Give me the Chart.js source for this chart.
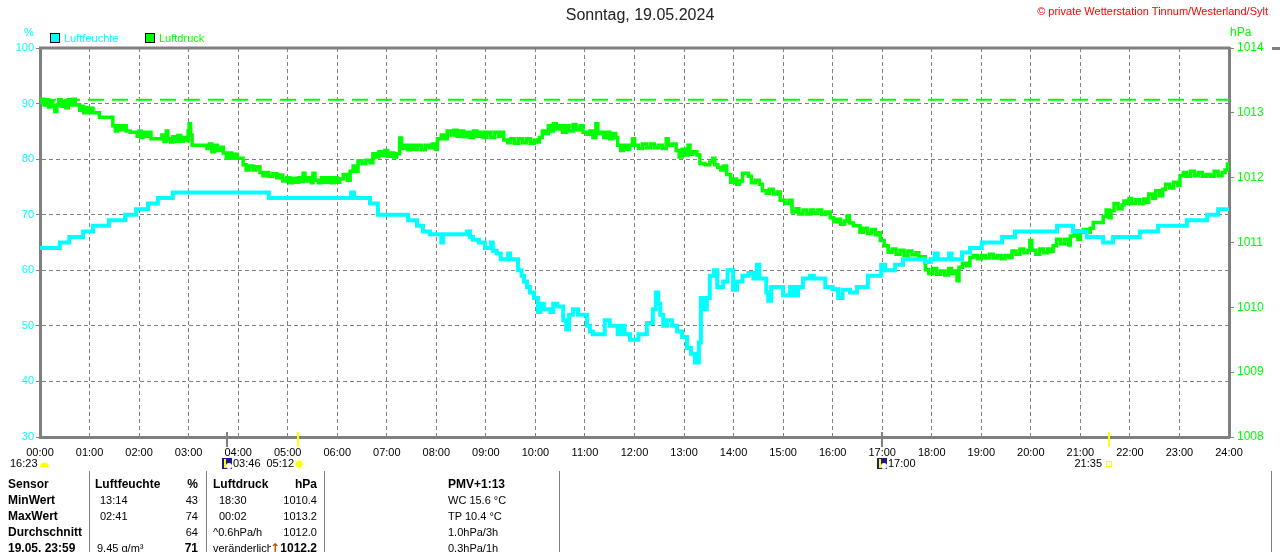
<!DOCTYPE html>
<html lang="de">
<head>
<meta charset="utf-8">
<title>Sonntag, 19.05.2024</title>
<script src="https://cdn.jsdelivr.net/npm/chart.js@4.4.1/dist/chart.umd.min.js"></script>
<style>
  html, body { margin: 0; padding: 0; background: #fff; }
  #wrap { position: relative; width: 1280px; height: 552px; overflow: hidden; background: #fff;
    font-family: 'Liberation Sans', Arial, sans-serif; }
  #chart { position: absolute; left: 0; top: 0; }
  .t { position: absolute; white-space: nowrap; line-height: 16px; font-size: 11px; color: #000; }
  .b { font-weight: bold; font-size: 12px; }
  .r { text-align: right; }
  .sep { position: absolute; top: 471px; width: 1px; height: 81px; background: #808080; }
  .sq { position: absolute; width: 8px; height: 8px; border: 1px solid #000; top: 33px; }
</style>
</head>
<body>
<div id="wrap">
  <canvas id="chart" width="1280" height="552"></canvas>

  <div class="t" style="left:0;width:1280px;top:6px;line-height:18px;font-size:16px;text-align:center;color:#222;">Sonntag, 19.05.2024</div>
  <div class="t" style="right:12px;top:4px;line-height:14px;color:#ff0000;">© private Wetterstation Tinnum/Westerland/Sylt</div>

  <div class="t" style="left:24px;top:24px;color:#00ffff;">%</div>
  <div class="t" style="left:1230px;top:24px;font-size:12px;color:#00ff00;">hPa</div>
  <div class="sq" style="left:50px;background:#00ffff;"></div>
  <div class="t" style="left:64px;top:30px;color:#00ffff;">Luftfeuchte</div>
  <div class="sq" style="left:145px;background:#00ff00;"></div>
  <div class="t" style="left:159px;top:30px;color:#00ff00;">Luftdruck</div>
  <div style="position:absolute;left:1272px;top:47px;width:8px;height:3px;background:#808080;"></div>

  <div id="table"></div>
</div>

<script>
// Luftfeuchte (%) : [Stunde, Wert]
const humidityPoints = [
  [0.00, 64], [0.40, 65], [0.59, 66], [0.87, 67], [1.07, 68], [1.39, 69], [1.72, 70],
  [1.94, 71], [2.18, 72], [2.38, 73], [2.68, 74], [4.62, 73], [6.28, 74], [6.34, 73],
  [6.66, 72], [6.82, 70], [7.43, 69], [7.61, 68], [7.73, 67], [7.87, 66.5], [8.10, 65],
  [8.14, 66.5], [8.62, 67], [8.68, 66], [8.74, 65.5], [8.86, 65], [8.98, 64], [9.10, 65],
  [9.14, 63.5], [9.22, 63], [9.30, 62], [9.45, 63], [9.49, 62], [9.65, 60], [9.72, 59],
  [9.77, 58], [9.83, 57], [9.89, 56], [9.97, 55], [10.05, 52.5], [10.10, 54], [10.17, 53],
  [10.30, 52.5], [10.36, 54], [10.44, 53.5], [10.56, 51], [10.62, 49.4], [10.68, 52],
  [10.76, 53], [10.86, 52], [11.04, 50], [11.10, 49], [11.16, 48.5], [11.40, 51],
  [11.50, 50], [11.66, 48.5], [11.74, 50], [11.80, 48.5], [11.91, 47.5], [12.08, 48.5],
  [12.25, 50.5], [12.37, 53], [12.43, 56], [12.48, 54], [12.52, 52], [12.58, 50],
  [12.66, 51], [12.76, 50], [12.86, 49], [12.96, 48], [13.06, 46], [13.14, 45],
  [13.22, 43.4], [13.30, 47], [13.34, 55], [13.40, 53], [13.46, 55], [13.52, 59],
  [13.60, 60], [13.67, 57], [13.79, 58], [13.88, 60], [13.99, 56.5], [14.07, 58],
  [14.18, 59], [14.30, 59.5], [14.40, 58.5], [14.47, 61], [14.52, 58.5], [14.66, 56],
  [14.70, 54.5], [14.76, 57], [15.00, 55.5], [15.14, 57], [15.22, 55.5], [15.30, 57],
  [15.40, 58.5], [15.54, 59], [15.62, 58.5], [15.85, 57], [16.00, 56.6], [16.11, 55],
  [16.20, 56.5], [16.35, 56], [16.49, 57], [16.71, 59], [16.98, 61], [17.06, 60],
  [17.26, 61], [17.42, 62], [17.86, 61.5], [17.98, 62], [18.06, 63], [18.12, 62],
  [18.35, 63], [18.40, 62], [18.61, 63.2], [18.77, 64], [19.01, 65], [19.42, 66],
  [19.68, 67], [20.53, 68], [20.85, 67], [21.13, 66], [21.46, 65], [21.66, 66],
  [22.20, 67], [22.57, 68], [23.15, 69], [23.56, 70], [23.78, 71], [24.00, 71],
];

// Luftdruck (hPa) : [Stunde, Wert]
const pressurePoints = [
  [0.00, 1013.16], [0.04, 1013.21], [0.08, 1013.12], [0.12, 1013.2], [0.17, 1013.09],
  [0.21, 1013.18], [0.26, 1013.1], [0.30, 1013.02], [0.34, 1013.12], [0.38, 1013.2],
  [0.43, 1013.1], [0.48, 1013.18], [0.52, 1013.08], [0.57, 1013.2], [0.62, 1013.12],
  [0.66, 1013.21], [0.71, 1013.12], [0.80, 1013.04], [0.84, 1013.1], [0.88, 1013.0],
  [0.93, 1013.08], [0.97, 1013.0], [1.02, 1013.07], [1.07, 1013.0], [1.20, 1012.93],
  [1.47, 1012.8], [1.52, 1012.72], [1.56, 1012.8], [1.62, 1012.74], [1.67, 1012.8],
  [1.74, 1012.72], [1.82, 1012.7], [1.96, 1012.64], [2.00, 1012.72], [2.04, 1012.62],
  [2.09, 1012.7], [2.14, 1012.64], [2.20, 1012.7], [2.24, 1012.6], [2.46, 1012.66],
  [2.50, 1012.56], [2.55, 1012.72], [2.58, 1012.6], [2.63, 1012.55], [2.68, 1012.63],
  [2.73, 1012.56], [2.78, 1012.65], [2.84, 1012.56], [2.89, 1012.62], [2.94, 1012.57],
  [2.99, 1012.72], [3.01, 1012.83], [3.04, 1012.66], [3.07, 1012.5], [3.37, 1012.45],
  [3.42, 1012.52], [3.47, 1012.4], [3.52, 1012.5], [3.58, 1012.42], [3.63, 1012.47],
  [3.70, 1012.38], [3.76, 1012.3], [3.81, 1012.38], [3.87, 1012.3], [3.92, 1012.36],
  [3.98, 1012.3], [4.10, 1012.2], [4.16, 1012.12], [4.22, 1012.18], [4.30, 1012.12],
  [4.36, 1012.17], [4.44, 1012.08], [4.50, 1012.03], [4.56, 1012.08], [4.62, 1012.02],
  [4.70, 1012.06], [4.78, 1012.0], [4.84, 1012.04], [4.90, 1011.95], [4.98, 1012.0],
  [5.04, 1011.92], [5.10, 1011.99], [5.16, 1011.93], [5.22, 1012.0], [5.28, 1011.94],
  [5.31, 1012.07], [5.35, 1011.95], [5.42, 1012.0], [5.48, 1011.92], [5.51, 1012.07],
  [5.55, 1011.96], [5.62, 1011.92], [5.68, 1012.0], [5.75, 1011.93], [5.82, 1012.0],
  [5.88, 1011.92], [5.94, 1012.0], [6.00, 1011.93], [6.05, 1011.98], [6.12, 1012.05],
  [6.20, 1011.96], [6.26, 1012.1], [6.32, 1012.18], [6.38, 1012.1], [6.42, 1012.26],
  [6.50, 1012.22], [6.58, 1012.27], [6.66, 1012.23], [6.72, 1012.37], [6.78, 1012.32],
  [6.84, 1012.4], [6.90, 1012.34], [6.96, 1012.42], [7.02, 1012.33], [7.08, 1012.38],
  [7.14, 1012.32], [7.20, 1012.37], [7.26, 1012.61], [7.30, 1012.45], [7.36, 1012.5],
  [7.42, 1012.43], [7.48, 1012.5], [7.55, 1012.44], [7.62, 1012.5], [7.70, 1012.43],
  [7.78, 1012.5], [7.86, 1012.46], [7.92, 1012.52], [7.98, 1012.44], [8.02, 1012.6],
  [8.10, 1012.66], [8.16, 1012.6], [8.22, 1012.72], [8.30, 1012.66], [8.36, 1012.73],
  [8.42, 1012.64], [8.48, 1012.72], [8.55, 1012.63], [8.62, 1012.7], [8.68, 1012.62],
  [8.75, 1012.72], [8.82, 1012.64], [8.88, 1012.7], [8.95, 1012.62], [9.02, 1012.7],
  [9.10, 1012.62], [9.18, 1012.7], [9.26, 1012.64], [9.32, 1012.7], [9.36, 1012.58],
  [9.44, 1012.54], [9.50, 1012.6], [9.58, 1012.53], [9.66, 1012.6], [9.74, 1012.54],
  [9.82, 1012.6], [9.90, 1012.53], [9.98, 1012.58], [10.04, 1012.55], [10.08, 1012.62],
  [10.14, 1012.72], [10.20, 1012.68], [10.26, 1012.8], [10.30, 1012.72], [10.36, 1012.83],
  [10.42, 1012.75], [10.48, 1012.8], [10.55, 1012.7], [10.62, 1012.8], [10.68, 1012.72],
  [10.76, 1012.82], [10.82, 1012.74], [10.90, 1012.8], [10.96, 1012.7], [11.04, 1012.67],
  [11.10, 1012.72], [11.16, 1012.62], [11.22, 1012.83], [11.26, 1012.68], [11.32, 1012.7],
  [11.38, 1012.62], [11.44, 1012.7], [11.50, 1012.6], [11.56, 1012.68], [11.62, 1012.62],
  [11.66, 1012.5], [11.72, 1012.42], [11.78, 1012.5], [11.84, 1012.44], [11.90, 1012.5],
  [11.96, 1012.6], [12.00, 1012.5], [12.08, 1012.45], [12.16, 1012.52], [12.24, 1012.46],
  [12.32, 1012.52], [12.40, 1012.46], [12.48, 1012.5], [12.56, 1012.45], [12.64, 1012.6],
  [12.68, 1012.5], [12.76, 1012.52], [12.84, 1012.42], [12.90, 1012.32], [12.96, 1012.44],
  [13.02, 1012.35], [13.08, 1012.5], [13.12, 1012.36], [13.18, 1012.4], [13.26, 1012.35],
  [13.32, 1012.22], [13.42, 1012.2], [13.52, 1012.24], [13.58, 1012.3], [13.62, 1012.2],
  [13.68, 1012.16], [13.74, 1012.12], [13.80, 1012.18], [13.86, 1012.05], [13.94, 1011.93],
  [14.00, 1011.98], [14.06, 1011.9], [14.12, 1011.95], [14.18, 1012.07], [14.30, 1012.02],
  [14.36, 1011.92], [14.44, 1011.96], [14.52, 1011.9], [14.58, 1011.8], [14.66, 1011.76],
  [14.72, 1011.82], [14.80, 1011.75], [14.88, 1011.78], [14.94, 1011.65], [15.04, 1011.6],
  [15.12, 1011.65], [15.18, 1011.47], [15.26, 1011.52], [15.32, 1011.44], [15.40, 1011.5],
  [15.48, 1011.44], [15.56, 1011.5], [15.62, 1011.45], [15.70, 1011.5], [15.78, 1011.43],
  [15.86, 1011.47], [15.95, 1011.38], [16.02, 1011.32], [16.09, 1011.36], [16.16, 1011.28],
  [16.24, 1011.33], [16.29, 1011.41], [16.34, 1011.3], [16.42, 1011.26], [16.55, 1011.16],
  [16.62, 1011.22], [16.70, 1011.14], [16.78, 1011.2], [16.86, 1011.12], [16.92, 1011.15],
  [16.96, 1011.03], [17.04, 1010.95], [17.12, 1010.85], [17.20, 1010.9], [17.28, 1010.82],
  [17.36, 1010.88], [17.44, 1010.8], [17.52, 1010.87], [17.60, 1010.81], [17.68, 1010.84],
  [17.74, 1010.78], [17.87, 1010.58], [17.94, 1010.52], [18.02, 1010.6], [18.10, 1010.51],
  [18.18, 1010.56], [18.26, 1010.5], [18.34, 1010.6], [18.40, 1010.52], [18.46, 1010.56],
  [18.51, 1010.41], [18.55, 1010.62], [18.62, 1010.68], [18.70, 1010.64], [18.77, 1010.77],
  [18.84, 1010.8], [18.92, 1010.75], [19.00, 1010.8], [19.08, 1010.76], [19.16, 1010.82],
  [19.24, 1010.76], [19.32, 1010.8], [19.40, 1010.75], [19.48, 1010.8], [19.56, 1010.77],
  [19.62, 1010.87], [19.70, 1010.82], [19.78, 1010.9], [19.86, 1010.84], [19.94, 1010.88],
  [19.98, 1011.03], [20.02, 1010.88], [20.10, 1010.82], [20.18, 1010.9], [20.26, 1010.84],
  [20.34, 1010.9], [20.40, 1010.86], [20.45, 1010.95], [20.52, 1011.05], [20.60, 1010.98],
  [20.68, 1011.05], [20.76, 1010.96], [20.80, 1011.1], [20.88, 1011.18], [20.95, 1011.05],
  [21.00, 1011.16], [21.06, 1011.2], [21.14, 1011.16], [21.20, 1011.22], [21.26, 1011.31],
  [21.46, 1011.4], [21.52, 1011.5], [21.58, 1011.38], [21.62, 1011.49], [21.68, 1011.6],
  [21.76, 1011.52], [21.84, 1011.58], [21.88, 1011.64], [21.94, 1011.6], [21.98, 1011.68],
  [22.04, 1011.6], [22.12, 1011.66], [22.20, 1011.6], [22.28, 1011.67], [22.34, 1011.62],
  [22.38, 1011.75], [22.46, 1011.68], [22.52, 1011.8], [22.60, 1011.72], [22.66, 1011.82],
  [22.72, 1011.9], [22.80, 1011.84], [22.88, 1011.93], [22.96, 1011.88], [23.01, 1012.03],
  [23.08, 1012.08], [23.14, 1012.02], [23.22, 1012.1], [23.30, 1012.03], [23.38, 1012.08],
  [23.46, 1012.02], [23.54, 1012.05], [23.62, 1012.02], [23.70, 1012.1], [23.78, 1012.03],
  [23.86, 1012.08], [23.92, 1012.12], [23.97, 1012.21], [24.00, 1012.2],
];

const pressureMax = 1013.2;

// Sonne / Mond (Stunde, Beschriftung)
const sunEvents = [
  { time: 5 + 12 / 60, label: '05:12', kind: 'rise' },
  { time: 21 + 35 / 60, label: '21:35', kind: 'set' },
];
const moonEvents = [
  { time: 3 + 46 / 60, label: '03:46' },
  { time: 17, label: '17:00' },
];
const prevMoonLabel = '16:23';

// Tabelle unten
const tableRows = [
  ['Sensor', 'Luftfeuchte', '%', 'Luftdruck', 'hPa', 'PMV+1:13'],
  ['MinWert', '13:14', '43', '18:30', '1010.4', 'WC 15.6 °C'],
  ['MaxWert', '02:41', '74', '00:02', '1013.2', 'TP 10.4 °C'],
  ['Durchschnitt', '', '64', '^0.6hPa/h', '1012.0', '1.0hPa/3h'],
  ['19.05. 23:59', '9.45 g/m³', '71', 'veränderlich', '1012.2', '0.3hPa/1h'],
];

const FONT = "'Liberation Sans', Arial, sans-serif";
const GRAY = '#808080';

// Tabelle aufbauen
(function buildTable() {
  const host = document.getElementById('table');
  let html = '';
  [89, 206, 324, 559, 1271].forEach((x) => {
    html += `<div class="sep" style="left:${x}px"></div>`;
  });
  tableRows.forEach((row, i) => {
    const top = 476 + i * 16;
    const head = i === 0;
    const last = i === tableRows.length - 1;
    html += `<div class="t b" style="left:8px;top:${top}px">${row[0]}</div>`;
    html += `<div class="t${head ? ' b' : ''}" style="left:${head ? 95 : (last ? 97 : 100)}px;top:${top}px">${row[1]}</div>`;
    html += `<div class="t r${head || last ? ' b' : ''}" style="left:150px;width:48px;top:${top}px">${row[2]}</div>`;
    if (last) {
      html += `<div class="t" style="left:213px;top:${top}px;width:58px;overflow:hidden">${row[3]}</div>`;
      html += `<div class="t b" style="left:270px;top:${top}px;color:#b05a00;font-family:'DejaVu Sans'">↑</div>`;
    } else {
      html += `<div class="t${head ? ' b' : ''}" style="left:${head || i === 3 ? 213 : 219}px;top:${top}px">${row[3]}</div>`;
    }
    html += `<div class="t r${head || last ? ' b' : ''}" style="left:260px;width:57px;top:${top}px">${row[4]}</div>`;
    html += `<div class="t${head ? ' b' : ''}" style="left:448px;top:${top}px">${row[5]}</div>`;
  });
  host.innerHTML = html;
})();

const hourLabel = (v) => String(v).padStart(2, '0') + ':00';

const extras = {
  id: 'extras',
  beforeDatasetsDraw(chart) {
    const { ctx, chartArea } = chart;
    const y = chart.scales.y2.getPixelForValue(pressureMax);
    ctx.save();
    ctx.strokeStyle = '#00ff00';
    ctx.lineWidth = 2;
    ctx.setLineDash([16, 8]);
    ctx.beginPath();
    ctx.moveTo(chartArea.left, y);
    ctx.lineTo(chartArea.right, y);
    ctx.stroke();
    ctx.restore();
  },
  afterDraw(chart) {
    const { ctx, chartArea } = chart;
    const x = chart.scales.x;
    const bottom = chartArea.bottom;
    const labelY = 464;
    ctx.save();
    // oberer Rahmen
    ctx.strokeStyle = GRAY;
    ctx.lineWidth = 3;
    ctx.beginPath();
    ctx.moveTo(chartArea.left - 1, chartArea.top);
    ctx.lineTo(chartArea.right + 1, chartArea.top);
    ctx.stroke();

    ctx.font = `11px ${FONT}`;
    ctx.textBaseline = 'middle';
    ctx.fillStyle = '#000';

    // Mond
    moonEvents.forEach((ev) => {
      const px = Math.round(x.getPixelForValue(ev.time));
      ctx.strokeStyle = GRAY;
      ctx.lineWidth = 2;
      ctx.beginPath();
      ctx.moveTo(px, bottom - 5);
      ctx.lineTo(px, bottom + 10);
      ctx.stroke();
      ctx.fillStyle = '#1c1c84';
      ctx.fillRect(px - 5, labelY - 6, 10, 11);
      ctx.fillStyle = '#ffffff';
      ctx.beginPath();
      ctx.arc(px + 2, labelY + 2, 3, 0, Math.PI * 2);
      ctx.fill();
      ctx.strokeStyle = '#ffff00';
      ctx.lineWidth = 2;
      ctx.beginPath();
      ctx.moveTo(px - 2, labelY - 5);
      ctx.lineTo(px - 2, labelY + 4);
      ctx.stroke();
      ctx.fillStyle = '#000';
      ctx.textAlign = 'left';
      ctx.fillText(ev.label, px + 6, labelY);
    });

    // Sonne
    sunEvents.forEach((ev) => {
      const px = Math.round(x.getPixelForValue(ev.time));
      ctx.strokeStyle = '#ffff00';
      ctx.lineWidth = 2;
      ctx.beginPath();
      ctx.moveTo(px, bottom - 5);
      ctx.lineTo(px, bottom + 10);
      ctx.stroke();
      ctx.fillStyle = '#000';
      ctx.textAlign = 'right';
      if (ev.kind === 'rise') {
        ctx.fillText(ev.label, px - 4, labelY);
        ctx.fillStyle = '#ffff00';
        ctx.beginPath();
        ctx.arc(px + 1, labelY, 3.5, 0, Math.PI * 2);
        ctx.fill();
        ctx.strokeStyle = '#ffff66';
        ctx.lineWidth = 1;
        for (let i = 0; i < 8; i++) {
          const a = (i * Math.PI) / 4;
          ctx.beginPath();
          ctx.moveTo(px + 1 + Math.cos(a) * 4.5, labelY + Math.sin(a) * 4.5);
          ctx.lineTo(px + 1 + Math.cos(a) * 6.5, labelY + Math.sin(a) * 6.5);
          ctx.stroke();
        }
      } else {
        ctx.fillText(ev.label, px - 7, labelY);
        ctx.strokeStyle = '#ffff00';
        ctx.lineWidth = 1;
        ctx.strokeRect(px - 2.5, labelY - 2.5, 5, 5);
      }
    });

    // Mond vom Vortag
    ctx.fillStyle = '#000';
    ctx.textAlign = 'left';
    ctx.fillText(prevMoonLabel, 10, labelY);
    ctx.fillStyle = '#ffff00';
    ctx.beginPath();
    ctx.arc(44.5, labelY + 3, 4.5, Math.PI, 0);
    ctx.fill();
    ctx.restore();
  },
};

new Chart(document.getElementById('chart').getContext('2d'), {
  type: 'line',
  data: {
    datasets: [
      {
        label: 'Luftfeuchte',
        data: humidityPoints.map(([x, y]) => ({ x, y })),
        yAxisID: 'y',
        borderColor: '#00ffff',
        borderWidth: 4,
        stepped: true,
        pointRadius: 0,
        fill: false,
        order: 0,
      },
      {
        label: 'Luftdruck',
        data: pressurePoints.map(([x, y]) => ({ x, y })),
        yAxisID: 'y2',
        borderColor: '#00ff00',
        borderWidth: 3.5,
        stepped: true,
        pointRadius: 0,
        fill: false,
        order: 1,
      },
    ],
  },
  options: {
    responsive: false,
    devicePixelRatio: 1,
    animation: false,
    layout: { padding: { top: 48, left: 0, right: 0, bottom: 0 } },
    plugins: { legend: { display: false }, tooltip: { enabled: false } },
    scales: {
      x: {
        type: 'linear',
        min: 0,
        max: 24,
        afterFit: (s) => { s.height = 115; },
        ticks: {
          stepSize: 1,
          autoSkip: false,
          maxRotation: 0,
          padding: 9,
          color: '#000',
          font: { family: FONT, size: 11 },
          callback: hourLabel,
        },
        grid: { color: GRAY, lineWidth: 1, drawTicks: false },
        border: { color: GRAY, width: 3, dash: [4, 3] },
      },
      y: {
        position: 'left',
        min: 30,
        max: 100,
        afterFit: (s) => { s.width = 40; },
        ticks: { stepSize: 10, padding: 2, color: '#00ffff', font: { family: FONT, size: 11 } },
        grid: { color: GRAY, lineWidth: 1, tickLength: 4, tickColor: GRAY, tickBorderDash: [], tickWidth: 1 },
        border: { color: GRAY, width: 3, dash: [4, 3] },
      },
      y2: {
        position: 'right',
        min: 1008,
        max: 1014,
        afterFit: (s) => { s.width = 51; },
        ticks: {
          stepSize: 1,
          padding: 3,
          color: '#00ff00',
          font: { family: FONT, size: 12 },
          callback: (v) => String(v),
        },
        grid: { drawOnChartArea: false, tickLength: 5, tickColor: GRAY, tickBorderDash: [], tickWidth: 1 },
        border: { color: GRAY, width: 3 },
      },
    },
  },
  plugins: [extras],
});
</script>
</body>
</html>
